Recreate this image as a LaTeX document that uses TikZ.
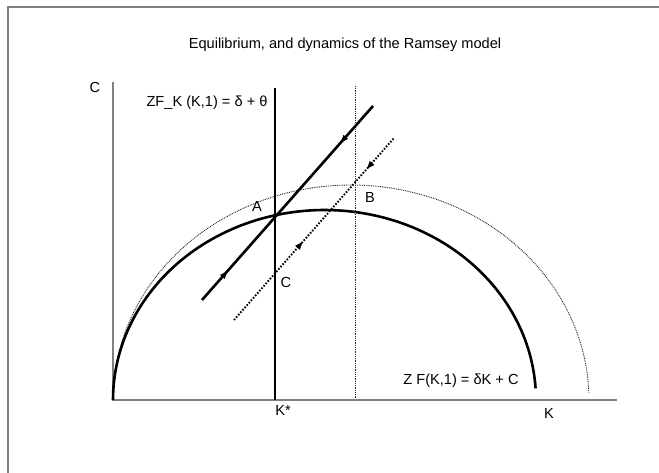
\documentclass[tikz,border=0pt]{standalone}
\usepackage{fontspec}
\setmainfont{Liberation Sans}
\usetikzlibrary{arrows.meta,decorations.markings}
\begin{document}
\begin{tikzpicture}[x=1pt,y=-1pt,
  lbl/.style={inner sep=0pt,font=\fontsize{14.6}{17}\selectfont},
  framecol/.style={draw=black!50,line width=2pt},
  axiscol/.style={draw=black!50,line width=1.4pt},
  thick line/.style={line width=2.6pt,line cap=butt},
  fine dots/.style={line width=0.9pt,dash pattern=on 0.9pt off 0.9pt},
  bold dots/.style={line width=1.9pt,dash pattern=on 1.6pt off 1.6pt},
  twotips/.style 2 args={postaction={decorate},decoration={markings,
    mark=at position #1 with {\arrow{Triangle[length=8pt,width=5.5pt]}},
    mark=at position #2 with {\arrowreversed{Triangle[length=8pt,width=5.5pt]}}}}
]
\useasboundingbox (0,0) rectangle (659,472);
% frame
\draw[framecol] (7.5,474) -- (7.5,7) -- (661,7);
% title
\node[lbl] (title) at (345,45) {Equilibrium, and dynamics of the Ramsey model};
% axes
\coordinate (ytop) at (113,82);
\coordinate (orig) at (113,400);
\coordinate (xend) at (617,400);
\draw[axiscol] (ytop) -- (orig) -- (xend);
\node[lbl] (clab) at (95,87) {C};
\node[lbl] (klab) at (549,413) {K};
% dotted curve
\draw[fine dots, draw=black!85] plot[domain=180:2, samples=120] ({351+238*cos(\x)}, {400-215*sin(\x)});
% solid curve
\draw[line width=2.6pt] plot[domain=180:3.5, samples=120] ({324.5+211.5*cos(\x)}, {400-190*sin(\x)});
% dotted vertical at B
\coordinate (vbt) at (355,86);
\coordinate (vbb) at (355,398);
\draw[fine dots, draw=black!85] (vbt) -- (vbb);
% K* line
\coordinate (kst) at (275,88);
\coordinate (ksb) at (275,400);
\draw[thick line] (kst) -- (ksb);
% saddle path
\coordinate (s1) at (202,300);
\coordinate (s2) at (373,106);
\draw[thick line,twotips={0.15}{0.81}] (s1) -- (s2);
% dotted diagonal
\coordinate (d1) at (234,320);
\coordinate (d2) at (394,138);
\draw[bold dots,twotips={0.43}{0.83}] (d1) -- (d2);
% labels
\node[lbl] (zfk) at (207,103) {ZF\_K (K,1) = δ + θ};
\node[lbl] (A) at (257,206) {A};
\node[lbl] (B) at (370,197) {B};
\node[lbl] (Cpt) at (286,282) {C};
\node[lbl] (Kstar) at (283,410) {K*};
\node[lbl] (zf) at (461,381) {Z F(K,1) = δK + C};
\end{tikzpicture}
\end{document}
